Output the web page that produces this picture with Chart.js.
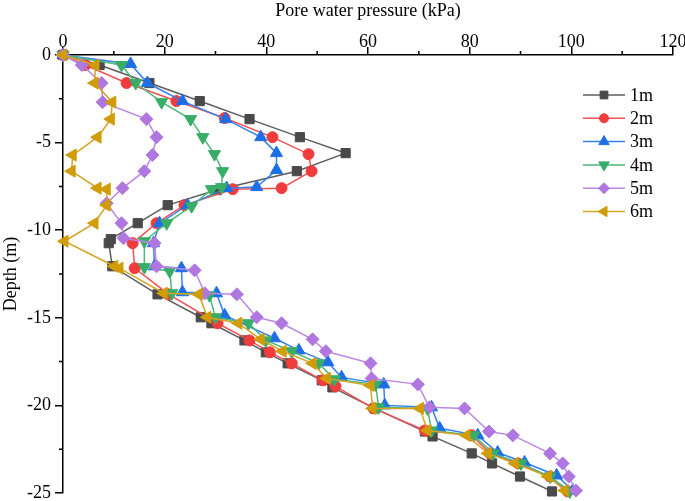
<!DOCTYPE html>
<html>
<head>
<meta charset="utf-8">
<script src="https://cdn.jsdelivr.net/npm/chart.js@4.4.0/dist/chart.umd.min.js"></script>
<style>
html, body { margin: 0; padding: 0; background: #fff; }
</style>
</head>
<body>
<canvas id="grafico" width="685" height="501"></canvas>
<script>
var labels = ['1m', '2m', '3m', '4m', '5m', '6m'];

var depth1 = [0, -0.57, -1.6, -2.63, -3.66, -4.69, -5.6, -6.63, -7.71, -8.57, -9.6, -10.51, -10.74, -12.06, -13.66, -14.97, -15.31, -16.29, -16.97, -17.6, -18.57, -18.97, -20.17, -21.49, -21.77, -22.74, -23.31, -24.06, -24.91];
var pwp1 = [0, 7.2, 17.0, 26.9, 36.7, 46.6, 55.6, 46.0, 30.2, 20.6, 14.7, 9.4, 9.0, 9.7, 18.6, 27.1, 29.2, 35.7, 39.9, 44.2, 50.9, 53.0, 61.3, 71.2, 72.7, 80.4, 84.4, 89.9, 96.2];

var depth2 = [0, -0.57, -1.6, -2.63, -3.6, -4.69, -5.66, -6.63, -7.6, -7.66, -8.57, -9.6, -10.74, -12.17, -13.66, -15.31, -16.29, -16.97, -17.6, -18.57, -18.91, -20.17, -21.43, -21.71, -22.74, -23.31, -24.06, -24.91];
var pwp2 = [0, 4.4, 12.5, 22.3, 31.8, 41.2, 48.3, 48.9, 43.0, 33.4, 23.9, 18.4, 13.7, 14.1, 20.8, 30.4, 36.7, 40.7, 45.0, 51.1, 53.6, 61.1, 71.2, 80.4, 84.0, 89.5, 95.8, 99.3];

var depth3 = [0, -0.51, -1.6, -2.63, -3.66, -4.69, -5.6, -6.57, -7.54, -7.6, -8.57, -9.6, -10.74, -12.06, -12.17, -13.54, -13.6, -14.86, -16.17, -16.86, -17.54, -18.4, -18.8, -20.0, -20.11, -21.31, -21.71, -22.69, -23.26, -24.0, -24.86];
var pwp3 = [0, 13.3, 16.6, 23.5, 32.0, 38.9, 42.0, 42.0, 38.1, 32.2, 24.5, 19.0, 17.8, 18.0, 23.3, 23.5, 30.2, 31.8, 41.6, 46.4, 52.1, 54.8, 63.1, 63.3, 72.5, 74.1, 81.6, 85.5, 90.8, 97.1, 100.3];

var depth4 = [0, -0.57, -1.6, -2.69, -3.66, -4.69, -5.66, -6.63, -7.54, -7.66, -8.63, -9.6, -10.63, -12.11, -12.34, -13.6, -13.71, -14.97, -15.31, -16.29, -16.91, -17.6, -18.51, -18.8, -20.11, -20.17, -21.43, -21.71, -22.74, -23.31, -24.06, -24.91];
var pwp4 = [0, 11.5, 14.3, 19.4, 25.1, 27.5, 29.8, 31.4, 31.2, 29.2, 25.3, 20.4, 16.0, 16.0, 21.0, 21.4, 28.8, 30.0, 36.5, 39.9, 45.0, 50.3, 53.4, 61.5, 62.1, 71.7, 72.5, 80.8, 84.6, 90.1, 95.8, 99.7];

var depth5 = [0, -0.57, -1.6, -2.69, -3.66, -4.69, -5.71, -6.63, -7.6, -8.46, -9.6, -10.46, -10.74, -12.06, -12.29, -13.6, -13.66, -14.97, -15.31, -16.23, -16.91, -17.6, -18.46, -18.8, -20.11, -20.17, -21.49, -21.71, -22.74, -23.31, -24.06, -24.86];
var pwp5 = [0, 3.7, 7.6, 7.8, 16.4, 18.4, 17.6, 16.0, 11.7, 8.6, 11.5, 11.9, 18.0, 18.4, 25.9, 27.9, 34.2, 38.1, 43.0, 49.1, 51.7, 60.5, 60.7, 69.8, 72.1, 79.0, 83.8, 88.5, 95.8, 98.3, 99.5, 100.9];

var depth6 = [0, -0.57, -1.6, -2.69, -3.66, -4.69, -5.71, -6.63, -7.6, -7.66, -8.57, -9.6, -10.63, -12.06, -12.17, -13.6, -13.66, -14.97, -15.31, -16.23, -16.91, -17.6, -18.46, -18.86, -20.17, -20.17, -21.43, -21.71, -22.74, -23.31, -24.06, -24.86];
var pwp6 = [0, 6.4, 6.2, 9.7, 9.4, 6.8, 1.9, 1.7, 6.8, 8.6, 8.6, 6.2, 0.3, 10.1, 11.1, 19.8, 26.7, 28.4, 34.5, 38.9, 43.2, 49.1, 51.9, 60.5, 60.9, 70.2, 71.7, 79.4, 83.6, 88.9, 95.4, 98.7];

var xTicks = [0, 20, 40, 60, 80, 100, 120];
var yTicks = [0, -5, -10, -15, -20, -25];

var depths = [depth1, depth2, depth3, depth4, depth5, depth6];
var pwps = [pwp1, pwp2, pwp3, pwp4, pwp5, pwp6];

// estilos de cada serie
var lineColor = ['#5c5c5c', '#f25252', '#3580ea', '#4cb87a', '#bb88e6', '#d4a522'];
var markColor = ['#4a4a4a', '#f03c3c', '#1e6fe6', '#38ad68', '#b177e0', '#d09c08'];
var markStyle = ['rect', 'circle', 'triangle', 'triangle', 'rectRot', 'triangle'];
var markRot = [0, 0, 0, 180, 0, -90];
var markSize = [6.5, 5.5, 7, 7, 6.5, 7];

var serif = "'Liberation Serif', 'Times New Roman', serif";

var datasets = [];
for (var i = 0; i < labels.length; i++) {
    var puntos = [];
    for (var j = 0; j < depths[i].length; j++) {
        puntos.push({ x: pwps[i][j], y: depths[i][j] });
    }
    datasets.push({
        label: labels[i],
        data: puntos,
        showLine: true,
        borderColor: lineColor[i],
        borderWidth: 1.5,
        pointBackgroundColor: markColor[i],
        pointBorderColor: markColor[i],
        pointBorderWidth: 1,
        pointStyle: markStyle[i],
        rotation: markRot[i],
        pointRadius: markSize[i],
        pointHoverRadius: markSize[i],
        clip: false,
        order: labels.length - i
    });
}

/*=============================================
=     minor ticks + legend drawn by hand      =
=============================================*/
var extras = {
    id: 'extras',
    afterDraw: function(chart) {
        var ctx = chart.ctx;
        var xs = chart.scales.x, ys = chart.scales.y, a = chart.chartArea;
        ctx.save();
        ctx.strokeStyle = '#000';
        ctx.lineWidth = 1.5;
        ctx.beginPath();
        for (var k = 0; k < xTicks.length - 1; k++) {
            var px = xs.getPixelForValue((xTicks[k] + xTicks[k + 1]) / 2);
            ctx.moveTo(px, a.top);
            ctx.lineTo(px, a.top - 4);
        }
        for (var k = 0; k < yTicks.length - 1; k++) {
            var py = ys.getPixelForValue((yTicks[k] + yTicks[k + 1]) / 2);
            ctx.moveTo(a.left, py);
            ctx.lineTo(a.left - 4, py);
        }
        ctx.stroke();

        var lx = a.right - 90, ly = a.top + 40;
        ctx.font = '18px ' + serif;
        ctx.textBaseline = 'middle';
        ctx.textAlign = 'left';
        for (var n = 0; n < labels.length; n++) {
            var yy = ly + n * 23.3;
            ctx.strokeStyle = lineColor[n];
            ctx.lineWidth = 1.5;
            ctx.beginPath();
            ctx.moveTo(lx, yy);
            ctx.lineTo(lx + 42, yy);
            ctx.stroke();
            ctx.fillStyle = markColor[n];
            ctx.strokeStyle = markColor[n];
            ctx.lineWidth = 1;
            Chart.helpers.drawPoint(ctx, { pointStyle: markStyle[n], rotation: markRot[n], radius: markSize[n] - 1, borderWidth: 1 }, lx + 21, yy);
            ctx.fillStyle = '#000';
            ctx.fillText(labels[n], lx + 47, yy + 1);
        }
        ctx.restore();
    }
};

var grafico = new Chart(document.getElementById('grafico'), {
    type: 'scatter',
    data: { datasets: datasets },
    plugins: [extras],
    options: {
        responsive: false,
        animation: false,
        devicePixelRatio: 1,
        layout: { padding: { right: 12, bottom: 6 } },
        plugins: {
            legend: { display: false },
            tooltip: { enabled: false }
        },
        scales: {
            x: {
                type: 'linear',
                position: 'top',
                min: 0,
                max: 120,
                afterFit: function(s) { s.height = 55; },
                ticks: { stepSize: 20, color: '#000', padding: -6, maxRotation: 0, font: { family: serif, size: 18 } },
                grid: { drawOnChartArea: false, tickLength: 8, color: '#000', lineWidth: 1.5 },
                border: { display: true, color: '#000', width: 1.5 },
                title: { display: true, text: 'Pore water pressure (kPa)', color: '#000', padding: { top: 0, bottom: 0 }, font: { family: serif, size: 18 } }
            },
            y: {
                type: 'linear',
                min: -25,
                max: 0,
                afterFit: function(s) { s.width = 63; s.paddingBottom = 0; s.paddingTop = 0; },
                ticks: { stepSize: 5, color: '#000', padding: 4, font: { family: serif, size: 18 } },
                grid: { drawOnChartArea: false, tickLength: 8, color: '#000', lineWidth: 1.5 },
                border: { display: true, color: '#000', width: 1.5 },
                title: { display: true, text: 'Depth (m)', color: '#000', padding: { top: 0, bottom: 0 }, font: { family: serif, size: 18 } }
            }
        }
    }
});
</script>
</body>
</html>
